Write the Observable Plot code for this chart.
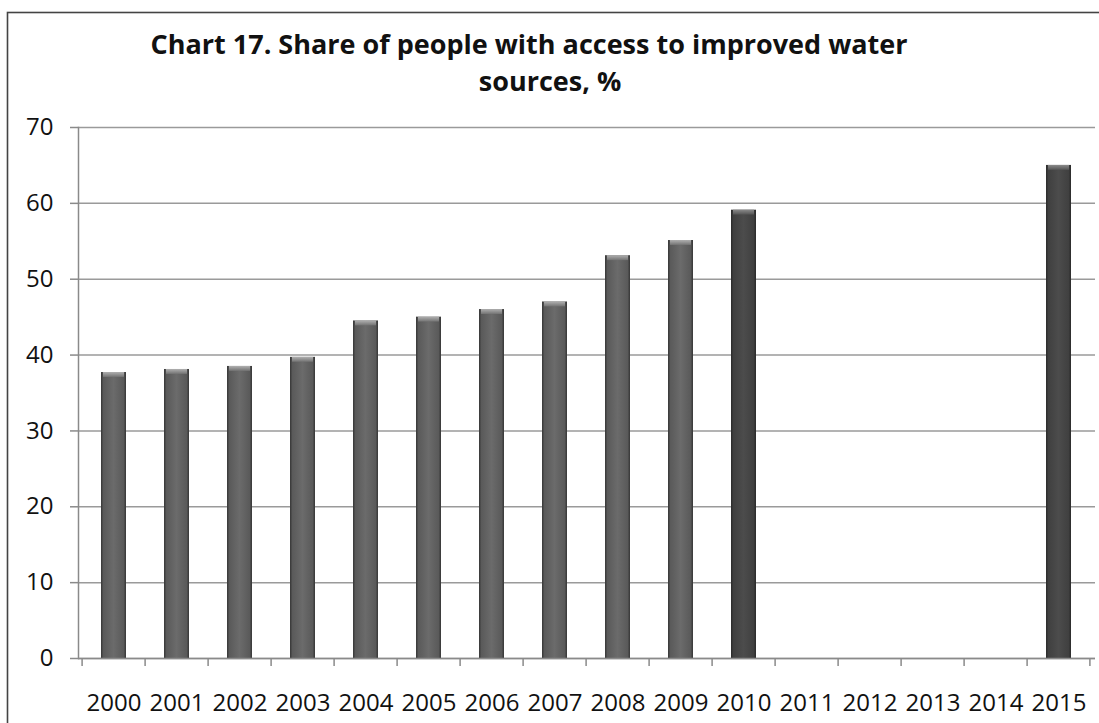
<!DOCTYPE html>
<html>
<head>
<meta charset="utf-8">
<script src="https://cdn.jsdelivr.net/npm/d3@7"></script>
<script src="https://cdn.jsdelivr.net/npm/@observablehq/plot@0.6"></script>
<style>
  html, body { margin: 0; padding: 0; background: #fff; }
  #chart { position: relative; width: 1099px; height: 723px; overflow: hidden; }
</style>
</head>
<body>
<svg width="0" height="0" style="position:absolute">
  <defs>
    <linearGradient id="gLight" x1="0" x2="1" y1="0" y2="0">
      <stop offset="0%" stop-color="#363636"/>
      <stop offset="10%" stop-color="#5a5a5a"/>
      <stop offset="50%" stop-color="#6b6b6b"/>
      <stop offset="90%" stop-color="#5a5a5a"/>
      <stop offset="100%" stop-color="#363636"/>
    </linearGradient>
    <linearGradient id="gDark" x1="0" x2="1" y1="0" y2="0">
      <stop offset="0%" stop-color="#2a2a2a"/>
      <stop offset="10%" stop-color="#404040"/>
      <stop offset="50%" stop-color="#4c4c4c"/>
      <stop offset="90%" stop-color="#404040"/>
      <stop offset="100%" stop-color="#2a2a2a"/>
    </linearGradient>
    <linearGradient id="gCapLight" x1="0" x2="0" y1="0" y2="1">
      <stop offset="0%" stop-color="#b0b0b0"/>
      <stop offset="100%" stop-color="#737373"/>
    </linearGradient>
    <linearGradient id="gCapDark" x1="0" x2="0" y1="0" y2="1">
      <stop offset="0%" stop-color="#8a8a8a"/>
      <stop offset="100%" stop-color="#545454"/>
    </linearGradient>
  </defs>
</svg>
<div id="chart"></div>
<script>
// ---- data ----
const years = [2000, 2001, 2002, 2003, 2004, 2005, 2006, 2007, 2008, 2009, 2010, 2011, 2012, 2013, 2014, 2015];
const values = [37.7, 38.1, 38.5, 39.7, 44.5, 45.0, 46.0, 47.0, 53.1, 55.1, 59.1, null, null, null, null, 65.0];
const shades = ["light","light","light","light","light","light","light","light","light","light","dark","light","light","light","light","dark"];
const yTicks = [0, 10, 20, 30, 40, 50, 60, 70];
const titleLines = ["Chart 17. Share of people with access to improved water", "sources, %"];

const data = years.map((y, i) => ({year: String(y), value: values[i], shade: shades[i]}));
const present = data.filter(d => d.value != null);
const lightBars = present.filter(d => d.shade === "light");
const darkBars = present.filter(d => d.shade === "dark");

const FONT = "'Open Sans', sans-serif";
const GRID = "#9a9a9a";
const AXIS = "#8a8a8a";

const chart = Plot.plot({
  width: 1099,
  height: 723,
  marginLeft: 78,
  marginRight: 4,
  marginTop: 127,
  marginBottom: 65,
  style: {fontFamily: FONT, fontSize: "24px", color: "#111", background: "transparent"},
  x: {type: "band", domain: years.map(String), paddingInner: 0.6, paddingOuter: 0.3, label: null},
  y: {domain: [0, 70], label: null},
  marks: [
    Plot.gridY(yTicks, {stroke: GRID, strokeOpacity: 1, strokeWidth: 1.5}),
    Plot.barY(lightBars, {x: "year", y: "value", fill: "url(#gLight)"}),
    Plot.barY(darkBars, {x: "year", y: "value", fill: "url(#gDark)"}),
    Plot.rectY(lightBars, {x: "year", y1: d => d.value - 0.65, y2: "value", fill: "url(#gCapLight)", insetLeft: 2, insetRight: 2}),
    Plot.rectY(darkBars, {x: "year", y1: d => d.value - 0.65, y2: "value", fill: "url(#gCapDark)", insetLeft: 2, insetRight: 2}),
    Plot.frame({anchor: "left", stroke: AXIS, strokeWidth: 1.5}),
    Plot.ruleY([0], {stroke: AXIS, strokeWidth: 1.5}),
    Plot.axisY(yTicks, {tickSize: 8, tickPadding: 17, stroke: AXIS, strokeWidth: 1.5, fontSize: 24, letterSpacing: -0.4, fill: "#111", label: null}),
    Plot.axisX({tickSize: 0, tickPadding: 35, fontSize: 24, letterSpacing: -0.5, fill: "#111", label: null})
  ]
});

// tick marks at category boundaries, from the band scale
const sx = chart.scale("x");
const sy = chart.scale("y");
const half = sx.step * sx.paddingInner / 2;
const bounds = years.map(y => sx.apply(String(y)) - half);
bounds.push(sx.apply(String(years[years.length - 1])) + sx.bandwidth + half);
const svg = d3.select(chart);
const y0 = sy.apply(0);
svg.append("g").selectAll("line").data(bounds).join("line")
  .attr("x1", d => d).attr("x2", d => d)
  .attr("y1", y0).attr("y2", y0 + 8)
  .attr("stroke", AXIS).attr("stroke-width", 1.5);

// title
const tg = svg.append("g").attr("font-family", FONT).attr("font-weight", "bold").attr("font-size", 27).attr("fill", "#111").attr("text-anchor", "middle");
tg.append("text").attr("x", 529).attr("y", 54).text(titleLines[0]);
tg.append("text").attr("x", 550).attr("y", 91).text(titleLines[1]);

// outer chart frame
svg.append("rect").attr("x", 7.5).attr("y", 12.5).attr("width", 1200).attr("height", 900)
  .attr("fill", "none").attr("stroke", "#444").attr("stroke-width", 1.6);

document.getElementById("chart").appendChild(chart);
</script>
</body>
</html>
